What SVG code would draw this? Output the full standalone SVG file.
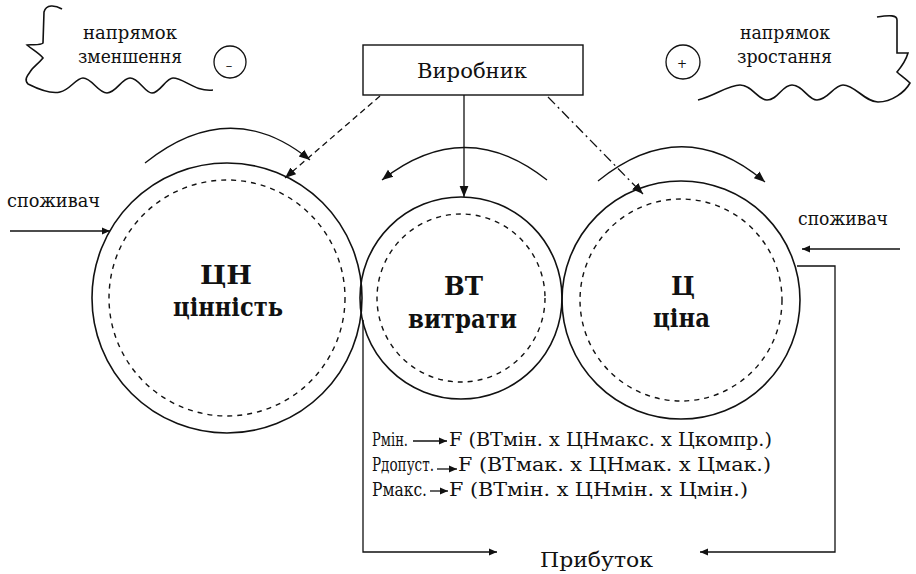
<svg xmlns="http://www.w3.org/2000/svg" width="916" height="574" viewBox="0 0 916 574">
<style>
text{font-family:"DejaVu Serif","Liberation Serif","Times New Roman",serif;fill:#111}
.b{font-weight:bold;font-size:26px}
.ln{fill:none;stroke:#111;stroke-width:1.6}
.thin{fill:none;stroke:#111;stroke-width:1.3}
.dsh{fill:none;stroke:#111;stroke-width:1.4;stroke-dasharray:5 5}
</style>
<defs>
<marker id="ah" viewBox="0 0 10 10" refX="10" refY="5" markerWidth="8" markerHeight="8" markerUnits="userSpaceOnUse" orient="auto"><path d="M0,0.5 L10,5 L0,9.5 Z" fill="#111"/></marker>
<marker id="ahL" viewBox="0 0 10 10" refX="10" refY="5" markerWidth="11" markerHeight="11" markerUnits="userSpaceOnUse" orient="auto"><path d="M0,1 L10,5 L0,9 Z" fill="#111"/></marker>
</defs>
<rect width="916" height="574" fill="#fff"/>

<g id="decor-left">
<path class="ln" d="M62,9 C55,5 46,4 44,12 L43,43 C40,46 30,44 27,45 C33,50 40,54 43,58 C38,64 32,68 30,72 C27,76 24,80 28,84 C40,90 52,94 60,92 C70,90 76,78 83,78 C92,78 98,93 107,93 C116,93 122,78 130,78 C139,78 145,93 152,93 C160,93 166,78 173,78 C184,78 195,92 213,90"/>
<text x="83" y="39" font-size="18" textLength="94" lengthAdjust="spacingAndGlyphs">напрямок</text>
<text x="78" y="63" font-size="18" textLength="104" lengthAdjust="spacingAndGlyphs">зменшення</text>
<circle class="thin" cx="230" cy="62" r="16"/>
<text x="229" y="70" font-size="13" text-anchor="middle">–</text>
</g>

<g id="decor-right">
<path class="ln" d="M698,100 C715,96 728,85 740,85 C752,85 758,100 767,100 C778,100 782,85 792,85 C803,85 808,100 817,100 C828,100 834,85 843,85 C855,85 865,102 878,102 C892,102 905,92 910,83 C905,78 900,75 897,72 C902,66 906,60 908,53 L897,53 L897,20 C897,15 890,15 877,17"/>
<text x="740" y="39" font-size="18" textLength="90" lengthAdjust="spacingAndGlyphs">напрямок</text>
<text x="737" y="63" font-size="18" textLength="95" lengthAdjust="spacingAndGlyphs">зростання</text>
<circle class="thin" cx="683" cy="62" r="17"/>
<text x="682" y="68" font-size="12" text-anchor="middle">+</text>
</g>

<g id="vyrobnyk">
<rect x="363" y="45" width="220" height="50" fill="#fff" stroke="#111" stroke-width="1.4"/>
<text x="417" y="78" font-size="21" textLength="110" lengthAdjust="spacingAndGlyphs">Виробник</text>
</g>

<g id="cinnist">
<circle class="ln" cx="227" cy="298" r="135"/>
<circle class="dsh" cx="227" cy="298" r="118"/>
<text class="b" x="200" y="284" textLength="52" lengthAdjust="spacingAndGlyphs">ЦН</text>
<text class="b" x="173" y="316" textLength="110" lengthAdjust="spacingAndGlyphs">цінність</text>
</g>

<g id="vytraty">
<circle class="ln" cx="461" cy="298" r="101"/>
<circle class="dsh" cx="461" cy="298" r="84"/>
<text class="b" x="444" y="295" textLength="39" lengthAdjust="spacingAndGlyphs">ВТ</text>
<text class="b" x="408" y="328" textLength="109" lengthAdjust="spacingAndGlyphs">витрати</text>
</g>

<g id="cina">
<circle class="ln" cx="681" cy="300" r="119"/>
<circle class="dsh" cx="681" cy="300" r="101"/>
<text class="b" x="671" y="295" textLength="24" lengthAdjust="spacingAndGlyphs">Ц</text>
<text class="b" x="653" y="327" textLength="57" lengthAdjust="spacingAndGlyphs">ціна</text>
</g>

<g id="spozhyvach-left">
<text x="7" y="207" font-size="18" textLength="93" lengthAdjust="spacingAndGlyphs">споживач</text>
</g>
<g id="spozhyvach-right">
<text x="798" y="225" font-size="18" textLength="90" lengthAdjust="spacingAndGlyphs">споживач</text>
</g>

<g id="formulas" font-size="18">
<text x="372" y="446" textLength="36" lengthAdjust="spacingAndGlyphs">Рмін.</text>
<text x="449" y="446" textLength="323" lengthAdjust="spacingAndGlyphs">F (ВТмін. х ЦНмакс. х Цкомпр.)</text>
<text x="372" y="471" textLength="62" lengthAdjust="spacingAndGlyphs">Рдопуст.</text>
<text x="458" y="471" textLength="313" lengthAdjust="spacingAndGlyphs">F (ВТмак. х ЦНмак. х Цмак.)</text>
<text x="372" y="496" textLength="55" lengthAdjust="spacingAndGlyphs">Рмакс.</text>
<text x="449" y="496" textLength="299" lengthAdjust="spacingAndGlyphs">F (ВТмін. х ЦНмін. х Цмін.)</text>
</g>

<g id="prybutok">
<text x="540" y="567" font-size="21" textLength="113" lengthAdjust="spacingAndGlyphs">Прибуток</text>
</g>

<g id="connectors">
<path class="thin" d="M145,163 Q230,95 310,160" marker-end="url(#ahL)"/>
<path class="thin" d="M547,180 Q465,115 382,180" marker-end="url(#ahL)"/>
<path class="thin" d="M598,181 Q683,112 765,182" marker-end="url(#ahL)"/>
<path class="thin" d="M380,96 L285,178" stroke-dasharray="6 4" marker-end="url(#ahL)"/>
<path class="thin" d="M464,95 L464,197" marker-end="url(#ahL)"/>
<path class="thin" d="M548,97 L643,194" stroke-dasharray="10 4 2 4" marker-end="url(#ahL)"/>
<path class="thin" d="M10,231 L110,231" marker-end="url(#ah)"/>
<path class="thin" d="M900,249 L802,249" marker-end="url(#ah)"/>
<path class="thin" d="M363,320 V552 H497" marker-end="url(#ah)"/>
<path class="thin" d="M797,266 H835 V552 H700" marker-end="url(#ah)"/>
<path class="thin" d="M413,441 H447" marker-end="url(#ah)"/>
<path class="thin" d="M437,469 H457" marker-end="url(#ah)"/>
<path class="thin" d="M430,491 H448" marker-end="url(#ah)"/>
</g>
</svg>
